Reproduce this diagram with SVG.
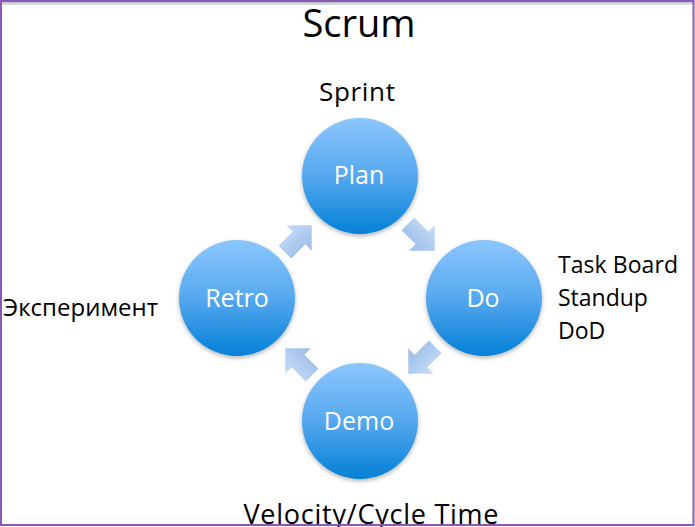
<svg xmlns="http://www.w3.org/2000/svg" width="695" height="527" viewBox="0 0 695 527">
  <style>
    .lbl { font-family: "Open Sans", "Liberation Sans", sans-serif; fill: #000; }
    .cl { font-family: "Open Sans", "Liberation Sans", sans-serif; fill: #fff; font-size: 25px; text-anchor: middle; }
    .circ { fill: url(#cg); filter: url(#sh); }
    .arr { fill: url(#ag); }
  </style>
  <defs>
    <linearGradient id="cg" x1="0" y1="0" x2="0" y2="1">
      <stop offset="0" stop-color="#8cc6fd"/>
      <stop offset="0.5" stop-color="#56a8ef"/>
      <stop offset="1" stop-color="#0380d6"/>
    </linearGradient>
    <linearGradient id="ag" x1="0" y1="0" x2="0" y2="1">
      <stop offset="0" stop-color="#c6ddfa"/>
      <stop offset="1" stop-color="#9bbae6"/>
    </linearGradient>
    <filter id="sh" x="-20%" y="-20%" width="140%" height="140%">
      <feDropShadow dx="0" dy="2" stdDeviation="2" flood-color="#000" flood-opacity="0.3"/>
    </filter>
    <path id="arrow" d="M-20,-9 L0,-9 L0,-18 L18,0 L0,18 L0,9 L-20,9 Z"/>
  </defs>
  <rect x="0" y="0" width="695" height="527" fill="#fff"/>
  <rect x="0" y="1.5" width="695" height="3" fill="#c4cbd2"/>

  <text class="lbl" x="359" y="37" font-size="38" text-anchor="middle" textLength="113">Scrum</text>
  <text class="lbl" x="357" y="101" font-size="26" text-anchor="middle" textLength="76">Sprint</text>
  <text class="lbl" x="3" y="316" font-size="24" textLength="155">Эксперимент</text>
  <text class="lbl" x="558" y="273" font-size="23" textLength="120">Task Board</text>
  <text class="lbl" x="558" y="306" font-size="23">Standup</text>
  <text class="lbl" x="558" y="339" font-size="23">DoD</text>
  <text class="lbl" x="371" y="524" font-size="27" text-anchor="middle" textLength="255">Velocity/Cycle Time</text>

  <g id="connectors">
    <use href="#arrow" class="arr" transform="translate(422,238) rotate(45)"/>
    <use href="#arrow" class="arr" transform="translate(421,361) rotate(135)"/>
    <use href="#arrow" class="arr" transform="translate(298,361) rotate(225)"/>
    <use href="#arrow" class="arr" transform="translate(299,238) rotate(-45)"/>
  </g>

  <g id="plan">
    <circle class="circ" cx="360" cy="176" r="58"/>
    <text class="cl" x="359" y="184">Plan</text>
  </g>
  <g id="do">
    <circle class="circ" cx="484" cy="298" r="58"/>
    <text class="cl" x="483" y="307">Do</text>
  </g>
  <g id="demo">
    <circle class="circ" cx="360" cy="421" r="58"/>
    <text class="cl" x="359" y="430">Demo</text>
  </g>
  <g id="retro">
    <circle class="circ" cx="237" cy="298" r="58"/>
    <text class="cl" x="237" y="307">Retro</text>
  </g>

  <rect x="1" y="1" width="692.5" height="524" fill="none" stroke="#8c58b6" stroke-width="2"/>
</svg>
